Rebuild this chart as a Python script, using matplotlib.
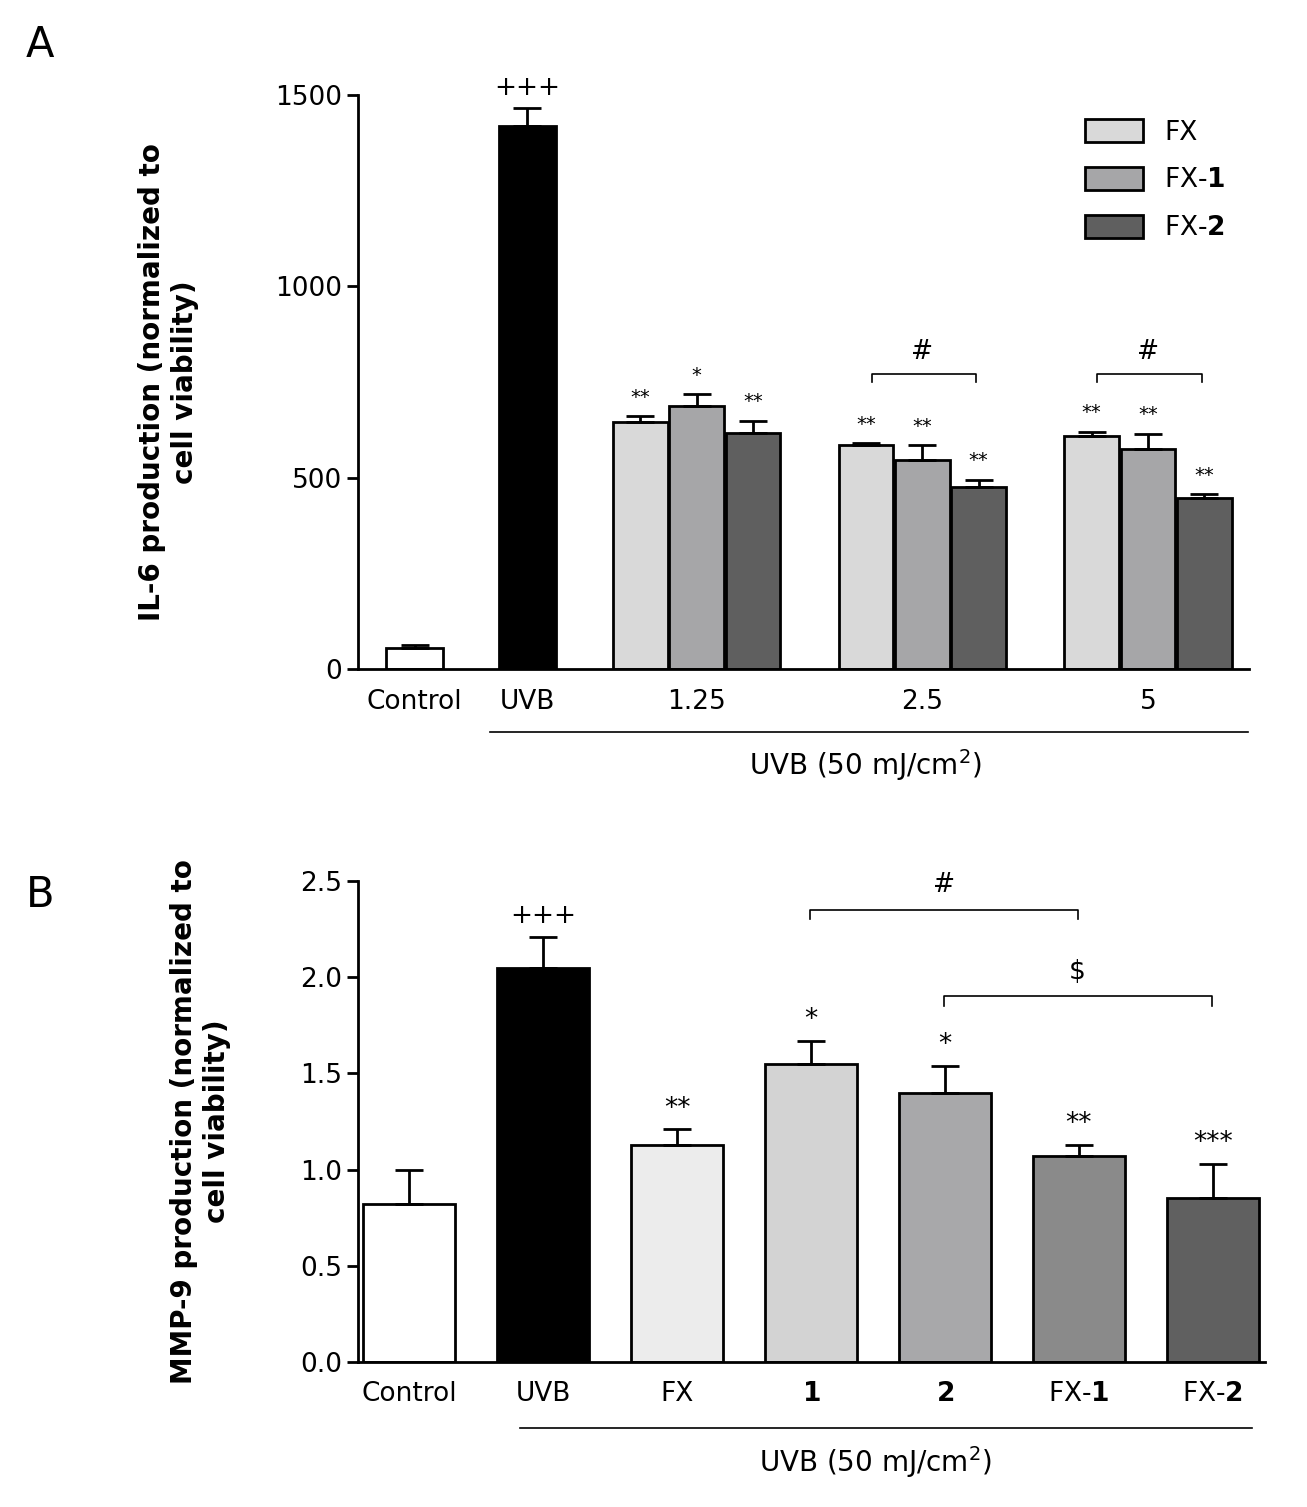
import matplotlib.pyplot as plt
from matplotlib.patches import Patch

plt.rcParams['font.family'] = 'DejaVu Sans'
plt.rcParams['mathtext.fontset'] = 'custom'
plt.rcParams['mathtext.bf'] = 'DejaVu Sans:bold'
plt.rcParams['mathtext.rm'] = 'DejaVu Sans'

# ---- panel A data ----
a_single = ['Control', 'UVB']
a_single_vals = [55, 1420]
a_single_err = [8, 45]
a_doses = ['1.25', '2.5', '5']
a_fx = [645, 585, 610]
a_fx_err = [15, 5, 10]
a_fx1 = [688, 545, 575]
a_fx1_err = [30, 40, 40]
a_fx2 = [618, 475, 447]
a_fx2_err = [30, 20, 10]
a_fx_sig = ['**', '**', '**']
a_fx1_sig = ['*', '**', '**']
a_fx2_sig = ['**', '**', '**']

# ---- panel B data ----
b_labels = ['Control', 'UVB', 'FX', r'$\mathbf{1}$', r'$\mathbf{2}$', r'FX-$\mathbf{1}$', r'FX-$\mathbf{2}$']
b_vals = [0.82, 2.05, 1.13, 1.55, 1.40, 1.07, 0.85]
b_err = [0.18, 0.16, 0.08, 0.12, 0.14, 0.06, 0.18]
b_sig = ['', '+++', '**', '*', '*', '**', '***']

fig = plt.figure(figsize=(13.07, 15.07), dpi=100)
fs = 19
ekw = dict(lw=2, capsize=10, capthick=2, ecolor='black')

# ===== A =====
ax = fig.add_axes([0.274, 0.556, 0.682, 0.381])
ax.bar([1, 3], a_single_vals, width=1.0, color=['white', 'black'], edgecolor='black', lw=2)
ax.errorbar([1, 3], a_single_vals, yerr=[[0, 0], a_single_err], fmt='none', **ekw)
centers = [6, 10, 14]
series = [(a_fx, a_fx_err, a_fx_sig, '#d9d9d9', 'FX', -1),
          (a_fx1, a_fx1_err, a_fx1_sig, '#a6a6a8', r'FX-$\mathbf{1}$', 0),
          (a_fx2, a_fx2_err, a_fx2_sig, '#5f5f5f', r'FX-$\mathbf{2}$', 1)]
handles = []
for vals, err, sig, col, lab, off in series:
    xs = [c + off for c in centers]
    ax.bar(xs, vals, width=0.97, color=col, edgecolor='black', lw=2)
    ax.errorbar(xs, vals, yerr=[[0] * 3, err], fmt='none', **ekw)
    for x, v, e, s in zip(xs, vals, err, sig):
        ax.text(x, v + e + 25, s, ha='center', va='bottom', fontsize=14)
    handles.append(Patch(facecolor=col, edgecolor='black', lw=2, label=lab))
ax.text(3, 1420 + 45 + 20, '+++', ha='center', va='bottom', fontsize=19)
for c in [10, 14]:
    y = 770
    ax.plot([c - 0.9, c - 0.9, c + 0.95, c + 0.95], [y - 20, y, y, y - 20], color='black', lw=1.2)
    ax.text(c, y + 25, '#', ha='center', va='bottom', fontsize=19)
ax.legend(handles=handles, loc='upper right', bbox_to_anchor=(1.0, 1.0), frameon=False,
          fontsize=19, handlelength=2.2, handleheight=1.0, labelspacing=0.8)
ax.set_xlim(0, 15.8)
ax.set_ylim(0, 1500)
ax.set_yticks([0, 500, 1000, 1500])
ax.set_xticks([1, 3] + centers)
ax.set_xticklabels(a_single + a_doses)
ax.tick_params(labelsize=fs, width=2, length=8)
ax.tick_params(axis='x', length=0, pad=14)
for sp in ['top', 'right']:
    ax.spines[sp].set_visible(False)
for sp in ['left', 'bottom']:
    ax.spines[sp].set_linewidth(2)
ax.set_ylabel('IL-6 production (normalized to\ncell viability)', fontsize=20, fontweight='bold', labelpad=55)
fig.lines.append(plt.Line2D([490 / 1307, 1248 / 1307], [1 - 732 / 1507] * 2, color='black', lw=1.2,
                            transform=fig.transFigure))
fig.text(865 / 1307, 1 - 765 / 1507, 'UVB (50 mJ/cm$^2$)', ha='center', va='center', fontsize=20)
fig.text(40 / 1307, 1 - 45 / 1507, 'A', fontsize=30, ha='center', va='center')

# ===== B =====
bx = fig.add_axes([0.274, 0.0962, 0.694, 0.3192])
bcols = ['white', 'black', '#ececec', '#d3d3d3', '#a8a8aa', '#8a8a8a', '#606060']
xs = list(range(len(b_vals)))
bx.bar(xs, b_vals, width=0.69, color=bcols, edgecolor='black', lw=2)
bx.errorbar(xs, b_vals, yerr=[[0] * len(b_err), b_err], fmt='none', **ekw)
for x, v, e, s in zip(xs, b_vals, b_err, b_sig):
    bx.text(x, v + e + 0.04, s, ha='center', va='bottom', fontsize=19)
for x0, x1, y, s in [(2.99, 4.99, 2.35, '#'), (3.99, 5.99, 1.90, '$')]:
    bx.plot([x0, x0, x1, x1], [y - 0.05, y, y, y - 0.05], color='black', lw=1.2)
    bx.text((x0 + x1) / 2, y + 0.06, s, ha='center', va='bottom', fontsize=19)
bx.set_xlim(-0.38, 6.39)
bx.set_ylim(0, 2.5)
bx.set_yticks([0, 0.5, 1.0, 1.5, 2.0, 2.5])
bx.set_yticklabels(['0.0', '0.5', '1.0', '1.5', '2.0', '2.5'])
bx.set_xticks(xs)
bx.set_xticklabels(b_labels)
bx.tick_params(labelsize=fs, width=2, length=8)
bx.tick_params(axis='x', length=0, pad=14)
for sp in ['top', 'right']:
    bx.spines[sp].set_visible(False)
for sp in ['left', 'bottom']:
    bx.spines[sp].set_linewidth(2)
bx.set_ylabel('MMP-9 production (normalized to\ncell viability)', fontsize=20, fontweight='bold', labelpad=50)
fig.lines.append(plt.Line2D([520 / 1307, 1252 / 1307], [1 - 1428 / 1507] * 2, color='black', lw=1.2,
                            transform=fig.transFigure))
fig.text(875 / 1307, 1 - 1462 / 1507, 'UVB (50 mJ/cm$^2$)', ha='center', va='center', fontsize=20)
fig.text(40 / 1307, 1 - 895 / 1507, 'B', fontsize=30, ha='center', va='center')

fig.savefig('out.png', dpi=100)
